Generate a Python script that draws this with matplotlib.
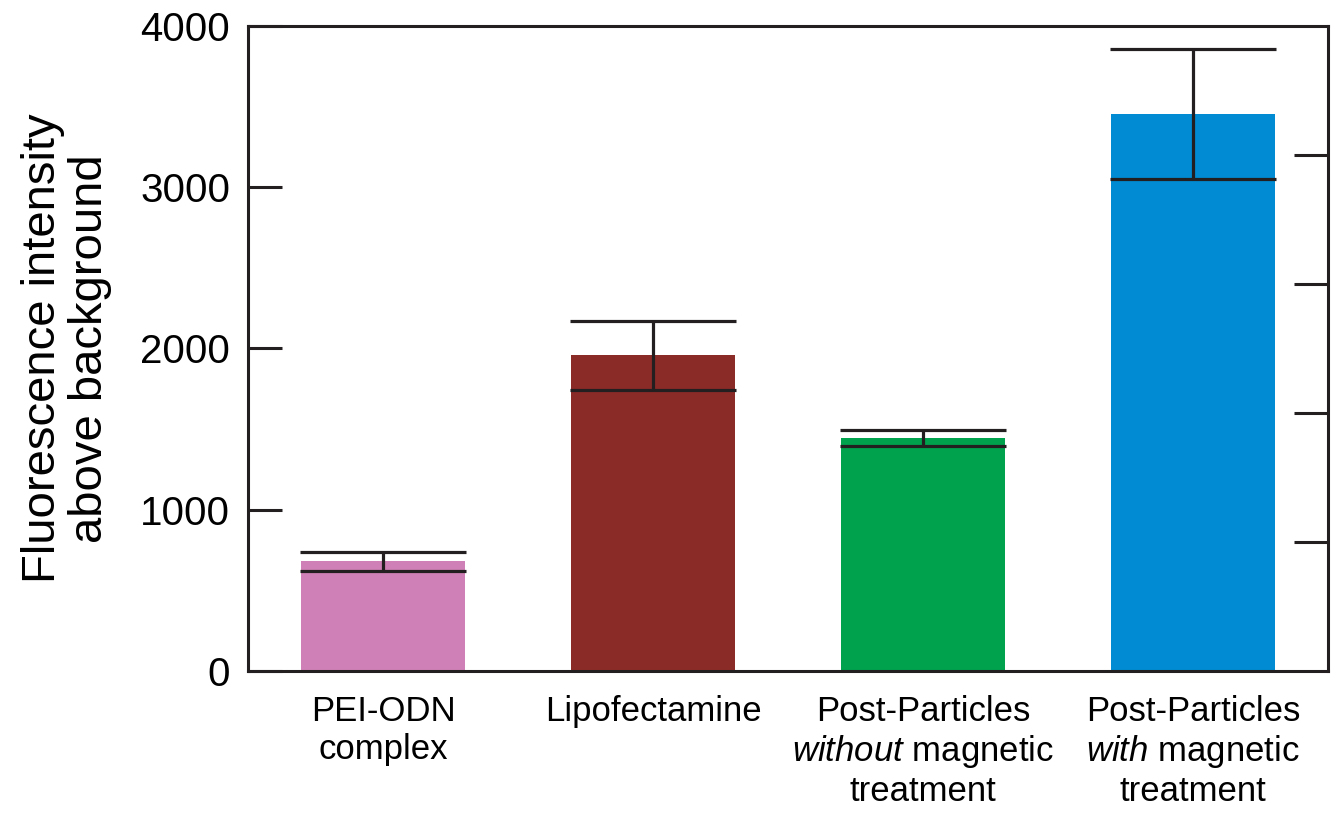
import matplotlib.pyplot as plt

plt.rcParams["font.family"] = ["Liberation Sans", "DejaVu Sans"]
plt.rcParams["mathtext.fontset"] = "custom"
plt.rcParams["mathtext.rm"] = "Liberation Sans"
plt.rcParams["mathtext.it"] = "Liberation Sans:italic"

categories = [
    "PEI-ODN\ncomplex",
    "Lipofectamine",
    "Post-Particles\n$\\it{without}$ magnetic\ntreatment",
    "Post-Particles\n$\\it{with}$ magnetic\ntreatment",
]
means = [680, 1958, 1446, 3456]
errors = [60, 215, 48, 402]
colors = ["#CF80B6", "#8B2B27", "#00A24E", "#008BD2"]
y_ticks = [0, 1000, 2000, 3000, 4000]

dark = "#231F20"

fig = plt.figure(figsize=(13.37, 8.13), dpi=100)
ax = fig.add_axes([0.1855, 0.1747, 0.8078, 0.7933])

x = list(range(len(categories)))
ax.bar(x, means, width=0.61, color=colors, zorder=1)
ax.errorbar(x, means, yerr=errors, fmt="none", ecolor=dark, elinewidth=2.3,
            capsize=60, capthick=2.3, zorder=2)

ax.set_xlim(-0.5, 3.5)
ax.set_ylim(0, 4000)
ax.set_yticks(y_ticks)
ax.set_xticks(x)
ax.set_xticklabels(categories, fontsize=25, linespacing=1.2)
ax.tick_params(axis="x", length=0, pad=17)
ax.tick_params(axis="y", direction="in", length=24.5, width=2.2, color=dark,
               labelsize=29, pad=13)
for s in ax.spines.values():
    s.set_linewidth(2.2)
    s.set_color(dark)

ax.set_ylabel("Fluorescence intensity\nabove background", fontsize=34,
              linespacing=1.08, labelpad=20)

# right-hand tick marks on their own scale
ax2 = ax.twinx()
ax2.set_ylim(0, 5)
ax2.set_yticks([1, 2, 3, 4])
ax2.set_yticklabels([])
ax2.tick_params(axis="y", direction="in", length=24.5, width=2.2, color=dark)
for s in ax2.spines.values():
    s.set_visible(False)

plt.savefig("out.png", dpi=100)
